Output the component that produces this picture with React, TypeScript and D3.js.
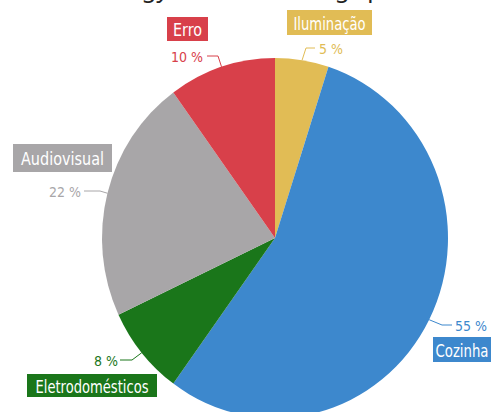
import React from "react";
import * as d3 from "d3";

const categories = ["Iluminação", "Cozinha", "Eletrodomésticos", "Audiovisual", "Erro"];
const values = [5, 55, 8, 22, 10];
const percentLabels = ["5 %", "55 %", "8 %", "22 %", "10 %"];
const colors = ["#e1bc55", "#3d88cd", "#1a761a", "#a8a6a8", "#d8404a"];
const titleText = "Energy breakdown, big spenders";

// layout (positions only)
const W = 491;
const H = 412;
const CX = 275;
const CY = 238;
const RX = 173;
const RY = 180;

type Lay = {
  lineY: number; elbowX: number; endX: number; textX: number; anchor: "start" | "end";
  box: [number, number, number, number]; textW: number;
};
const layout: Lay[] = [
  { lineY: 48, elbowX: 306, endX: 315, textX: 319, anchor: "start", box: [287, 10, 372, 35], textW: 72 },
  { lineY: 325, elbowX: 442, endX: 452, textX: 455, anchor: "start", box: [433, 337, 497, 362], textW: 53 },
  { lineY: 360, elbowX: 132, endX: 120, textX: 118, anchor: "end", box: [27, 374, 157, 397], textW: 113 },
  { lineY: 191, elbowX: 100, endX: 84, textX: 81, anchor: "end", box: [13, 144, 112, 172], textW: 83 },
  { lineY: 56, elbowX: 218, endX: 207, textX: 203, anchor: "end", box: [167, 17, 208, 41], textW: 29 },
];

const labelFont = "'Ubuntu Condensed', 'Liberation Sans Narrow', 'DejaVu Sans Condensed', 'Roboto Condensed', sans-serif";

export default function App() {
  const pie = d3.pie<number>().sort(null).value((d) => d);
  const arcs = pie(values);
  const arcGen = d3.arc<d3.PieArcDatum<number>>().innerRadius(0).outerRadius(RX);
  const sy = RY / RX;

  return (
    <div style={{ position: "absolute", left: 0, top: 0 }}>
      <svg width={W} height={H} style={{ display: "block", background: "#fff" }}>
        <text x={90} y={-3} fontFamily="'Noto Sans', sans-serif" fontSize={24} fill="#222">
          {titleText}
        </text>
        <g transform={`translate(${CX},${CY}) scale(1,${sy})`}>
          {arcs.map((a, i) => (
            <path key={i} d={arcGen(a) || ""} fill={colors[i]} />
          ))}
        </g>
        {arcs.map((a, i) => {
          const mid = (a.startAngle + a.endAngle) / 2;
          const ex = CX + Math.sin(mid) * RX;
          const ey = CY - Math.cos(mid) * RY;
          const L = layout[i];
          const [bx0, by0, bx1, by1] = L.box;
          return (
            <g key={i}>
              <polyline
                points={`${ex},${ey} ${L.elbowX},${L.lineY} ${L.endX},${L.lineY}`}
                fill="none"
                stroke={colors[i]}
                strokeWidth={1}
              />
              <text
                x={L.textX}
                y={L.lineY + 1}
                textAnchor={L.anchor}
                dominantBaseline="central"
                fontFamily={labelFont}
                fontSize={14}
                fill={colors[i]}
              >
                {percentLabels[i]}
              </text>
              <rect x={bx0} y={by0} width={bx1 - bx0} height={by1 - by0} fill={colors[i]} />
              <text
                x={(bx0 + bx1) / 2 - (i === 1 ? 3 : 0)}
                y={(by0 + by1) / 2 + 1}
                textAnchor="middle"
                dominantBaseline="central"
                fontFamily={labelFont}
                fontSize={17}
                fill="#fff"
                textLength={L.textW}
                lengthAdjust="spacingAndGlyphs"
              >
                {categories[i]}
              </text>
            </g>
          );
        })}
      </svg>
    </div>
  );
}
